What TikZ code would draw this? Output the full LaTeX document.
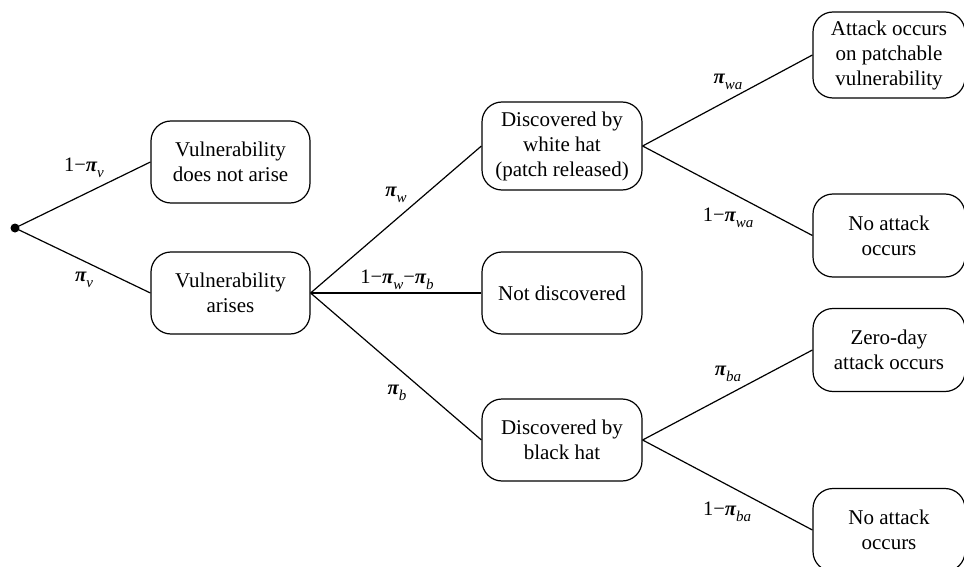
\documentclass[tikz,border=0pt]{standalone}
\usepackage{fontspec}
\setmainfont{Liberation Serif}
\newcommand{\ppi}{{\bfseries\itshape π}}
\newcommand{\sub}[1]{\raisebox{-0.28em}{\fontsize{15}{15}\selectfont\itshape #1}}
\begin{document}
\begin{tikzpicture}[x=1pt,y=-1pt,
  outcome/.style={draw, line width=1.2pt, rounded corners=20pt, align=center,
    inner sep=0pt, font=\fontsize{21}{25}\selectfont},
  colA/.style={outcome, minimum width=159pt, minimum height=82pt},
  colB/.style={outcome, minimum width=160pt, minimum height=82pt},
  colC/.style={outcome, minimum width=152pt, minimum height=83pt},
  branch/.style={line width=1.2pt},
  prob/.style={inner sep=0pt, font=\fontsize{20.5}{24}\selectfont}]
\useasboundingbox (0,0) rectangle (964,567);

% root of the tree
\fill (15,228) circle (4.5pt);
\coordinate (root) at (15,228);

% first split
\node[colA] (noarise) at (230.5,162) {Vulnerability\\does not arise};
\node[colA] (arise)   at (230.5,293) {Vulnerability\\arises};

% discovery outcomes
\node[colB, minimum height=88pt] (white) at (562,146) {Discovered by\\white hat\\(patch released)};
\node[colB] (notdisc) at (562,293) {Not discovered};
\node[colB] (black)   at (562,440) {Discovered by\\black hat};

% attack outcomes
\node[colC, minimum height=86pt] (patchatk) at (889,55) {Attack occurs\\on patchable\\vulnerability};
\node[colC] (noatk1)  at (889,235.5) {No attack\\occurs};
\node[colC] (zeroday) at (889,350)   {Zero-day\\attack occurs};
\node[colC] (noatk2)  at (889,530)   {No attack\\occurs};

% branches
\draw[branch] (root) -- (noarise.west);
\draw[branch] (root) -- (arise.west);
\draw[branch] (arise.east) -- (white.west);
\draw[branch] (arise.east) -- (notdisc.west);
\draw[branch] (arise.east) -- (black.west);
\draw[branch] (white.east) -- (patchatk.west);
\draw[branch] (white.east) -- (noatk1.west);
\draw[branch] (black.east) -- (zeroday.west);
\draw[branch] (black.east) -- (noatk2.west);

% branch probabilities
\node[prob] (p1) at (84,168) {1−\ppi\sub{v}};
\node[prob] (p2) at (84,280) {\ppi\sub{v}};
\node[prob] (p3) at (396,195) {\ppi\sub{w}};
\node[prob] (p4) at (397,280) {1−\ppi\sub{w}−\ppi\sub{b}};
\node[prob] (p5) at (397,393) {\ppi\sub{b}};
\node[prob] (p6) at (728,82)  {\ppi\sub{wa}};
\node[prob] (p7) at (728,218) {1−\ppi\sub{wa}};
\node[prob] (p8) at (728,374) {\ppi\sub{ba}};
\node[prob] (p9) at (727,512) {1−\ppi\sub{ba}};
\end{tikzpicture}
\end{document}
